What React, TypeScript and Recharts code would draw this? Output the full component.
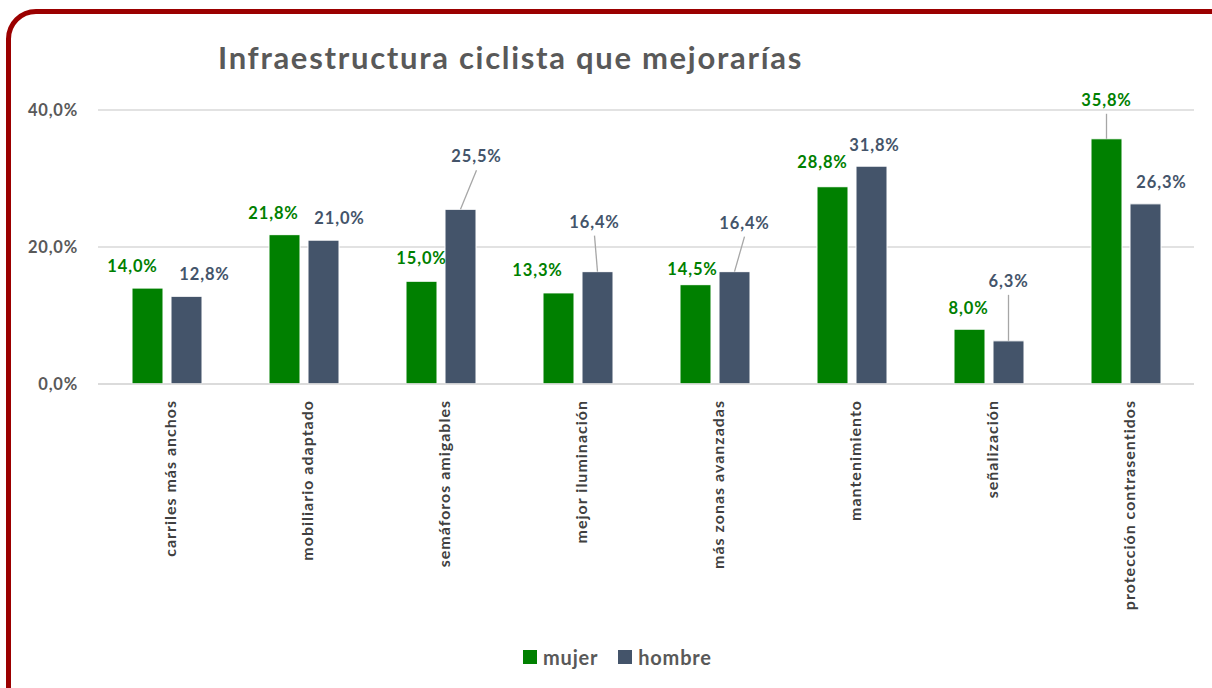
import React from 'react';
import { BarChart, Bar, XAxis, YAxis, CartesianGrid, LabelList } from 'recharts';

const categories = [
    'carriles más anchos',
    'mobiliario adaptado',
    'semáforos amigables',
    'mejor iluminación',
    'más zonas avanzadas',
    'mantenimiento',
    'señalización',
    'protección contrasentidos',
];
const mujer = [14.0, 21.8, 15.0, 13.3, 14.5, 28.8, 8.0, 35.8];
const hombre = [12.8, 21.0, 25.5, 16.4, 16.4, 31.8, 6.3, 26.3];
const yTicks = [0, 20, 40];

// label placement relative to bar top centre: [dx, dy, leader line]
const mujerLabelPos: [number, number, boolean][] = [
    [-15, -22, false], [-11, -22, false], [0, -23, false], [-21, -23, false],
    [-3, -16, false], [-10, -25, false], [-1, -21, false], [0, -39, true],
];
const hombreLabelPos: [number, number, boolean][] = [
    [18, -22, false], [16, -22, false], [16, -53, true], [-3, -50, true],
    [10, -49, true], [3, -21, false], [0, -60, true], [16, -22, false],
];

const GREEN = '#008000';
const SLATE = '#44546A';
const FONT = 'Lato, "Open Sans", sans-serif';

const data = categories.map((name, i) => ({ name, mujer: mujer[i], hombre: hombre[i] }));

const fmt = (v: number) => v.toFixed(1).replace('.', ',') + '%';

const makeLabel = (pos: [number, number, boolean][], color: string) => (props: any) => {
    const { x, y, width, value, index } = props;
    const [dx, dy, line] = pos[index];
    const cx = Number(x) + Number(width) / 2;
    const top = Number(y);
    const tx = cx + dx;
    const ty = top + dy;
    return (
        <g>
            {line && <line x1={tx} y1={ty + 14} x2={cx} y2={top} stroke="#A6A6A6" strokeWidth={1.3} />}
            <text x={tx} y={ty} textAnchor="middle" dominantBaseline="central" letterSpacing={0.9}
                fill={color} fontSize={16.5} fontWeight={700} fontFamily={FONT}>
                {fmt(Number(value))}
            </text>
        </g>
    );
};

const YTick = (props: any) => {
    const { y, payload } = props;
    return (
        <text x={78} y={y} textAnchor="end" dominantBaseline="central" letterSpacing={0.8}
            fill="#595959" fontSize={16.5} fontWeight={700} fontFamily={FONT}>
            {fmt(payload.value)}
        </text>
    );
};

const XTick = (props: any) => {
    const { x, payload } = props;
    return (
        <text x={x + 3} y={400} transform={`rotate(-90 ${x + 3} 400)`} textAnchor="end" letterSpacing={1}
            dominantBaseline="central" fill="#404040" fontSize={16} fontWeight={700} fontFamily={FONT}>
            {payload.value}
        </text>
    );
};

const App: React.FC = () => {
    return (
        <div style={{ position: 'absolute', left: 0, top: 0, width: 1212, height: 688, overflow: 'hidden', background: 'white', fontFamily: FONT }}>
            <div style={{
                position: 'absolute', left: 6, top: 9, width: 1260, height: 740,
                border: '5px solid #9B0000', borderRadius: 30, boxSizing: 'border-box',
            }} />
            <div style={{
                position: 'absolute', left: 218, top: 37, fontSize: 31, fontWeight: 700, letterSpacing: 1.7,
                color: '#595959', whiteSpace: 'nowrap', lineHeight: '40px',
            }}>
                Infraestructura ciclista que mejorarías
            </div>
            <div style={{ position: 'absolute', left: 0, top: 0 }}>
                <BarChart width={1212} height={688} data={data}
                    margin={{ top: 110, right: 18, bottom: 0, left: 0 }}
                    barSize={31} barGap={8}>
                    <CartesianGrid vertical={false} stroke="#D9D9D9" strokeWidth={1.5} />
                    <XAxis dataKey="name" height={304} interval={0} tickLine={false}
                        axisLine={{ stroke: '#D9D9D9', strokeWidth: 1.5 }} tick={<XTick />} />
                    <YAxis width={98} domain={[0, 40]} ticks={yTicks} axisLine={false}
                        tickLine={false} tick={<YTick />} />
                    <Bar dataKey="mujer" fill={GREEN} stroke="#FFFFFF" strokeWidth={1} isAnimationActive={false}>
                        <LabelList dataKey="mujer" content={makeLabel(mujerLabelPos, GREEN)} />
                    </Bar>
                    <Bar dataKey="hombre" fill={SLATE} stroke="#FFFFFF" strokeWidth={1} isAnimationActive={false}>
                        <LabelList dataKey="hombre" content={makeLabel(hombreLabelPos, SLATE)} />
                    </Bar>
                </BarChart>
            </div>
            <div style={{
                position: 'absolute', left: 523, top: 643, display: 'flex', gap: 20,
                fontSize: 20, fontWeight: 700, color: '#595959', letterSpacing: 0.8, lineHeight: '28px',
            }}>
                <span style={{ display: 'flex', alignItems: 'center', gap: 6 }}>
                    <span style={{ width: 14, height: 14, background: GREEN, display: 'inline-block' }} />mujer
                </span>
                <span style={{ display: 'flex', alignItems: 'center', gap: 6 }}>
                    <span style={{ width: 14, height: 14, background: SLATE, display: 'inline-block' }} />hombre
                </span>
            </div>
        </div>
    );
};

export default App;
